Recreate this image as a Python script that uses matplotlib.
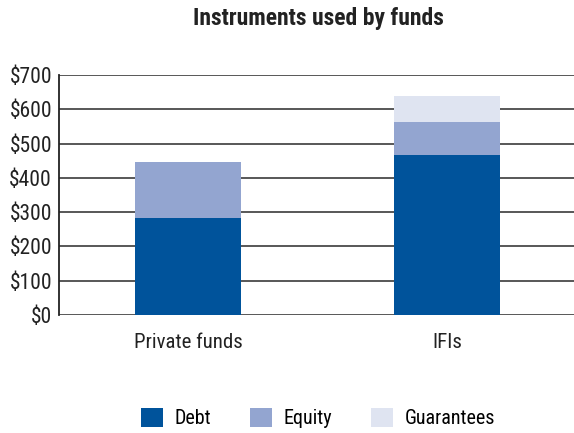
import matplotlib.pyplot as plt
import numpy as np

categories = ["Private funds", "IFIs"]
debt = [283, 467]
equity = [163, 96]
guarantees = [0, 76]
yticks = [0, 100, 200, 300, 400, 500, 600, 700]

plt.rcParams["font.family"] = ["Liberation Sans Narrow", "Roboto Condensed", "DejaVu Sans"]

fig = plt.figure(figsize=(5.74, 4.33), dpi=100)
ax = fig.add_axes([0.1028, 0.2725, 0.8972, 0.5543])

x = np.arange(len(categories))
w = 0.41
ax.bar(x, debt, w, color="#00539b", label="Debt", zorder=3)
ax.bar(x, equity, w, bottom=debt, color="#93a5d0", label="Equity", zorder=3)
bottom2 = [d + e for d, e in zip(debt, equity)]
ax.bar(x, guarantees, w, bottom=bottom2, color="#dfe4f1", label="Guarantees", zorder=3)

ax.set_xlim(-0.5, 1.49)
ax.set_ylim(0, 700)
ax.set_yticks(yticks)
ax.set_yticklabels(["$" + str(v) for v in yticks], fontsize=15.5, color="#222222")
ax.set_xticks(x)
ax.set_xticklabels(categories, fontsize=15, color="#222222")
ax.tick_params(axis="both", length=0)
ax.tick_params(axis="y", pad=5)
ax.tick_params(axis="x", pad=13)
ax.yaxis.grid(True, color="#4a4a4a", linewidth=1.3)
ax.set_axisbelow(True)
for s in ["top", "right", "bottom"]:
    ax.spines[s].set_visible(False)
ax.spines["left"].set_color("#222222")
ax.spines["left"].set_linewidth(1.3)

fig.text(0.554, 0.958, "Instruments used by funds", ha="center", va="center",
         fontsize=17, fontweight="bold", color="#222222")

fig.legend(loc="center", bbox_to_anchor=(0.554, 0.035), ncol=3, frameon=False,
           fontsize=14.5, handlelength=1.1, handleheight=1.1, handletextpad=0.6,
           columnspacing=1.9)

fig.savefig("out.png", dpi=100)
